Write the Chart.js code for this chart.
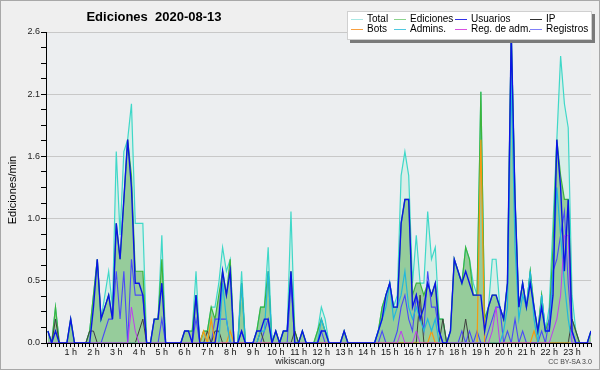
<!DOCTYPE html>
<html>
<head>
<meta charset="utf-8">
<script src="https://cdn.jsdelivr.net/npm/chart.js@4/dist/chart.umd.min.js"></script>
<style>
  html, body { margin: 0; padding: 0; background: #efefef; }
  #wrap { position: relative; width: 600px; height: 370px; background: #efefef; overflow: hidden; }
  #frame { position: absolute; left: 0; top: 0; width: 600px; height: 370px; box-sizing: border-box; border: 1px solid #a8a8a8; pointer-events: none; }
  canvas { position: absolute; left: 0; top: 0; }
  .txt { position: absolute; font-family: "Liberation Sans", Arial, sans-serif; color: #000; white-space: nowrap; }
  #title { left: 0; width: 308px; top: 9px; text-align: center; font-size: 13px; font-weight: bold; }
  #ytitle { left: -38px; top: 184px; width: 100px; text-align: center; font-size: 11px; transform: rotate(-90deg); }
  #site { left: 250px; width: 100px; top: 356px; text-align: center; font-size: 9px; color: #222; }
  #lic { left: 530px; width: 80px; top: 358px; text-align: center; font-size: 7px; color: #444; }
  #legend { position: absolute; left: 347px; top: 11px; width: 243px; height: 27px; background: #fff; border: 1px solid #d0d0d0; box-shadow: 3px 3px 0 #7a7a7a; }
  .item { position: absolute; font-family: "Liberation Sans", Arial, sans-serif; font-size: 10px; line-height: 10px; white-space: nowrap; }
  .item i { position: absolute; left: 0; top: 5px; width: 12px; height: 1px; }
  .item span { position: absolute; left: 16px; top: 0; }
</style>
</head>
<body>
<div id="wrap">
  <canvas id="chart" width="600" height="370"></canvas>
  <div id="title" class="txt">Ediciones&nbsp;&nbsp;2020-08-13</div>
  <div id="ytitle" class="txt">Ediciones/min</div>
  <div id="site" class="txt">wikiscan.org</div>
  <div id="lic" class="txt">CC BY-SA 3.0</div>
  <div id="legend"></div>
  <div id="frame"></div>
</div>
<script>
// Valores: ediciones por minuto, un punto cada 10 minutos (144 por día)
const hourLabels = ["1 h", "2 h", "3 h", "4 h", "5 h", "6 h", "7 h", "8 h", "9 h", "10 h", "11 h", "12 h",
  "13 h", "14 h", "15 h", "16 h", "17 h", "18 h", "19 h", "20 h", "21 h", "22 h", "23 h"];
const yTickLabels = ["0.0", "0.5", "1.0", "1.6", "2.1", "2.6"];

const total = [
  0.1, 0, 0.3, 0, 0, 0,
  0.2, 0, 0, 0, 0, 0.1,
  0.4, 0.7, 0.2, 0.4, 0.6, 0.3,
  1.6, 0.9, 1.6, 1.7, 2.0, 1.0,
  1.0, 1.0, 0, 0, 0.2, 0.2,
  0.9, 0, 0, 0, 0, 0,
  0.1, 0.1, 0.1, 0.6, 0, 0.1,
  0.1, 0.3, 0.3, 0.5, 0.8, 0.6,
  0.7, 0, 0, 0.6, 0, 0,
  0, 0.1, 0.3, 0.3, 0.8, 0,
  0.1, 0, 0.1, 0.1, 1.1, 0.1,
  0, 0.1, 0, 0, 0, 0.1,
  0.3, 0.2, 0, 0, 0, 0,
  0.1, 0, 0, 0, 0, 0,
  0, 0, 0, 0.1, 0.3, 0.4,
  0.5, 0.3, 0.4, 1.4, 1.6, 1.4,
  0.5, 0.9, 0.5, 0.5, 1.1, 0.7,
  0.8, 0.2, 0.2, 0, 0.1, 0.7,
  0.6, 0.5, 0.8, 0.7, 0.5, 0.4,
  2.1, 0.2, 0.3, 0.7, 0.7, 0.3,
  0.2, 0.5, 2.6, 1.2, 0.3, 0.5,
  0.3, 0.6, 0.3, 0.1, 0.4, 0.1,
  0.3, 1.0, 1.7, 2.4, 2.0, 1.8,
  0.4, 0.1, 0, 0, 0, 0.1
];
const ediciones = [
  0.1, 0, 0.3, 0, 0, 0,
  0.2, 0, 0, 0, 0, 0.1,
  0.4, 0.7, 0.2, 0.3, 0.4, 0.2,
  1.0, 0.7, 1.2, 1.7, 1.4, 0.6,
  0.6, 0.6, 0, 0, 0.2, 0.2,
  0.7, 0, 0, 0, 0, 0,
  0.1, 0.1, 0.1, 0.4, 0, 0.1,
  0.1, 0.3, 0.2, 0.4, 0.6, 0.4,
  0.7, 0, 0, 0.5, 0, 0,
  0, 0.1, 0.3, 0.3, 0.6, 0,
  0.1, 0, 0.1, 0.1, 0.6, 0.1,
  0, 0.1, 0, 0, 0, 0.1,
  0.2, 0.1, 0, 0, 0, 0,
  0.1, 0, 0, 0, 0, 0,
  0, 0, 0, 0.1, 0.3, 0.4,
  0.5, 0.3, 0.3, 1.0, 1.2, 1.2,
  0.4, 0.5, 0.5, 0.4, 0.5, 0.4,
  0.5, 0.2, 0.2, 0, 0.1, 0.7,
  0.6, 0.5, 0.8, 0.7, 0.4, 0.4,
  2.1, 0.2, 0.3, 0.4, 0.4, 0.3,
  0.2, 0.5, 2.6, 1.2, 0.3, 0.5,
  0.3, 0.6, 0.3, 0.1, 0.4, 0.1,
  0.2, 0.8, 1.7, 1.4, 1.2, 1.2,
  0.2, 0.1, 0, 0, 0, 0.1
];
const usuarios = [
  0.1, 0, 0.1, 0, 0, 0,
  0.2, 0, 0, 0, 0, 0,
  0.3, 0.7, 0.2, 0.3, 0.4, 0.2,
  1.0, 0.7, 1.2, 1.7, 1.3, 0.5,
  0.5, 0.4, 0, 0, 0.2, 0.2,
  0.5, 0, 0, 0, 0, 0,
  0.1, 0.1, 0, 0.4, 0, 0,
  0, 0, 0, 0.2, 0.6, 0.4,
  0.6, 0, 0, 0.1, 0, 0,
  0, 0.1, 0.1, 0.2, 0.2, 0,
  0.1, 0, 0.1, 0.1, 0.6, 0,
  0, 0.1, 0, 0, 0, 0,
  0.1, 0.1, 0, 0, 0, 0,
  0.1, 0, 0, 0, 0, 0,
  0, 0, 0, 0.1, 0.2, 0.4,
  0.5, 0.3, 0.3, 1.0, 1.2, 1.2,
  0.3, 0.4, 0.2, 0.3, 0.5, 0.4,
  0.5, 0.1, 0, 0, 0.1, 0.7,
  0.6, 0.5, 0.6, 0.5, 0.4, 0.4,
  0.4, 0.1, 0.3, 0.4, 0.4, 0.3,
  0.2, 0.5, 2.6, 1.2, 0.3, 0.5,
  0.3, 0.5, 0.3, 0.1, 0.3, 0.1,
  0.1, 0.4, 1.7, 1.3, 0.6, 1.2,
  0.1, 0, 0, 0, 0, 0.1
];
const ip = [
  0, 0, 0.2, 0, 0, 0,
  0, 0, 0, 0, 0, 0.1,
  0.1, 0, 0, 0, 0, 0,
  0, 0, 0, 0, 0, 0,
  0.1, 0.2, 0, 0, 0, 0,
  0, 0, 0, 0, 0, 0,
  0, 0, 0, 0, 0, 0,
  0.1, 0, 0.1, 0.1, 0, 0,
  0, 0, 0, 0, 0, 0,
  0, 0, 0.1, 0, 0, 0,
  0, 0, 0, 0, 0, 0.1,
  0, 0, 0, 0, 0, 0,
  0, 0, 0, 0, 0, 0,
  0, 0, 0, 0, 0, 0,
  0, 0, 0, 0, 0, 0,
  0, 0, 0, 0, 0, 0,
  0, 0, 0.4, 0, 0, 0,
  0, 0, 0.2, 0, 0, 0,
  0, 0, 0.2, 0, 0, 0,
  0, 0, 0, 0, 0, 0,
  0, 0, 0, 0, 0, 0,
  0, 0, 0, 0, 0, 0,
  0, 0, 0, 0, 0, 0,
  0.2, 0.1, 0, 0, 0, 0
];
const bots = [
  0, 0, 0, 0, 0, 0,
  0, 0, 0, 0, 0, 0,
  0, 0, 0, 0, 0, 0,
  0, 0, 0, 0, 0, 0,
  0, 0, 0, 0, 0, 0,
  0, 0, 0, 0, 0, 0,
  0, 0, 0, 0, 0, 0.1,
  0, 0.2, 0, 0, 0, 0,
  0.1, 0, 0, 0, 0, 0,
  0, 0, 0, 0, 0, 0,
  0, 0, 0, 0, 0, 0,
  0, 0, 0, 0, 0, 0,
  0, 0, 0, 0, 0, 0,
  0, 0, 0, 0, 0, 0,
  0, 0, 0, 0, 0, 0,
  0, 0, 0, 0, 0, 0,
  0, 0, 0, 0, 0, 0.1,
  0, 0, 0, 0, 0, 0,
  0, 0, 0, 0, 0, 0,
  1.7, 0, 0, 0, 0, 0,
  0, 0, 0, 0, 0, 0,
  0, 0, 0.1, 0, 0, 0,
  0, 0, 0, 0, 0, 0,
  0, 0, 0, 0, 0, 0
];
const admins = [
  0, 0, 0, 0, 0, 0,
  0, 0, 0, 0, 0, 0,
  0, 0, 0, 0, 0, 0,
  0, 0, 0, 0, 0, 0,
  0, 0, 0, 0, 0, 0,
  0, 0, 0, 0, 0, 0,
  0, 0, 0, 0, 0, 0,
  0, 0, 0, 0, 0.5, 0.2,
  0, 0, 0, 0.5, 0, 0,
  0, 0, 0.1, 0.1, 0.6, 0,
  0, 0, 0, 0, 0, 0,
  0, 0, 0, 0, 0, 0,
  0.2, 0.1, 0, 0, 0, 0,
  0, 0, 0, 0, 0, 0,
  0, 0, 0, 0.1, 0.2, 0.3,
  0.5, 0.2, 0.3, 0.4, 0.6, 0.3,
  0.2, 0.3, 0.2, 0.1, 0.2, 0.1,
  0.2, 0, 0, 0, 0, 0,
  0, 0, 0, 0, 0, 0,
  0, 0, 0, 0, 0, 0,
  0.1, 0.3, 2.2, 0.8, 0.2, 0.4,
  0.3, 0.6, 0.2, 0, 0.4, 0.1,
  0.1, 0.6, 1.3, 0.9, 0.5, 0.2,
  0, 0, 0, 0, 0, 0
];
const regAdm = [
  0, 0, 0, 0, 0, 0,
  0, 0, 0, 0, 0, 0,
  0, 0, 0, 0, 0, 0,
  0, 0, 0, 0, 0.3, 0.1,
  0, 0, 0, 0, 0, 0,
  0, 0, 0, 0, 0, 0,
  0, 0, 0, 0, 0, 0,
  0, 0, 0, 0, 0, 0,
  0, 0, 0, 0, 0, 0,
  0, 0, 0, 0, 0, 0,
  0, 0, 0, 0, 0, 0,
  0, 0, 0, 0, 0, 0,
  0, 0, 0, 0, 0, 0,
  0, 0, 0, 0, 0, 0,
  0, 0, 0, 0, 0, 0,
  0, 0, 0, 0.1, 0, 0,
  0, 0.1, 0, 0, 0, 0,
  0, 0, 0, 0, 0, 0,
  0, 0, 0, 0, 0, 0,
  0, 0, 0, 0.1, 0.3, 0,
  0, 0, 0, 0, 0, 0,
  0, 0, 0, 0, 0, 0,
  0, 0.1, 0.2, 0.4, 0.9, 0.9,
  0, 0, 0, 0, 0, 0
];
const registros = [
  0, 0, 0, 0, 0, 0,
  0, 0, 0, 0, 0, 0,
  0, 0, 0, 0.1, 0.2, 0.2,
  0.6, 0.2, 0.6, 0, 0.7, 0.4,
  0.4, 0.4, 0, 0, 0, 0,
  0.2, 0, 0, 0, 0, 0,
  0, 0, 0, 0.2, 0, 0,
  0, 0, 0.2, 0.2, 0.2, 0.2,
  0, 0, 0, 0.1, 0, 0,
  0, 0, 0, 0.1, 0.2, 0,
  0, 0, 0, 0, 0.5, 0,
  0, 0, 0, 0, 0, 0,
  0.1, 0, 0, 0, 0, 0,
  0, 0, 0, 0, 0, 0,
  0, 0, 0, 0, 0.1, 0,
  0, 0, 0.1, 0.3, 0.4, 0.2,
  0.1, 0.4, 0.3, 0.1, 0.6, 0.3,
  0.3, 0.1, 0, 0, 0, 0,
  0, 0.1, 0, 0.1, 0, 0.1,
  0, 0, 0.1, 0.2, 0.3, 0.3,
  0, 0.1, 0, 0.2, 0, 0.1,
  0, 0, 0, 0, 0.1, 0,
  0.2, 0.6, 0.7, 0.9, 1.1, 0.5,
  0.1, 0, 0, 0, 0, 0
];

const series = [
  { label: "Total", data: total, color: "#3fd8c8", legend: "#a8e8e4", width: 1.2, fill: "rgba(200,238,226,0.55)", order: 10 },
  { label: "Ediciones", data: ediciones, color: "#3cb43c", legend: "#8cd48c", width: 1.2, fill: "rgba(122,190,122,0.7)", order: 9 },
  { label: "Usuarios", data: usuarios, color: "#0a14e6", legend: "#3030e8", width: 1.4, order: 1 },
  { label: "IP", data: ip, color: "#404040", legend: "#303030", width: 1, order: 5 },
  { label: "Bots", data: bots, color: "#f59a10", legend: "#f8a040", width: 1.2, order: 4 },
  { label: "Admins.", data: admins, color: "#22b8dc", legend: "#50c8e0", width: 1.2, order: 3 },
  { label: "Reg. de adm.", data: regAdm, color: "#c03cf0", legend: "#d850e0", width: 1, order: 2 },
  { label: "Registros", data: registros, color: "#4a4af8", legend: "#8080f8", width: 1.1, order: 6 }
];

// Leyenda (4 columnas x 2 filas)
const legendEl = document.getElementById("legend");
const legendOrder = ["Total", "Ediciones", "Usuarios", "IP", "Bots", "Admins.", "Reg. de adm.", "Registros"];
const colX = [3, 46, 107, 182];
legendOrder.forEach((name, k) => {
  const s = series.find((d) => d.label === name);
  const div = document.createElement("div");
  div.className = "item";
  div.style.left = colX[k % 4] + "px";
  div.style.top = (k < 4 ? 2 : 12) + "px";
  div.innerHTML = '<i style="background:' + s.legend + '"></i><span>' + name + "</span>";
  legendEl.appendChild(div);
});

const bgPlugin = {
  id: "plotBg",
  beforeDraw(chart) {
    const { ctx, chartArea: a } = chart;
    ctx.save();
    ctx.fillStyle = "#eceef0";
    ctx.fillRect(a.left, a.top, a.right - a.left, a.bottom - a.top);
    ctx.restore();
  }
};

const datasets = series.map((s) => ({
  label: s.label,
  data: s.data.map((v, i) => ({ x: i, y: v })),
  borderColor: s.color,
  borderWidth: s.width,
  backgroundColor: s.fill || "transparent",
  fill: s.fill ? "origin" : false,
  pointRadius: 0,
  tension: 0,
  order: s.order
}));

new Chart(document.getElementById("chart"), {
  type: "line",
  data: { datasets },
  plugins: [bgPlugin],
  options: {
    responsive: false,
    animation: false,
    devicePixelRatio: 1,
    layout: { padding: { top: 32, right: 9, left: 0, bottom: 0 } },
    plugins: {
      legend: { display: false },
      tooltip: { enabled: false },
      filler: { drawTime: "beforeDatasetsDraw" }
    },
    scales: {
      x: {
        type: "linear",
        min: -0.5,
        max: 143,
        afterFit: (s) => { s.height = 27; },
        afterBuildTicks: (s) => {
          s.ticks = total.map((_, i) => ({ value: i }));
        },
        border: { display: true, color: "#000", width: 1 },
        grid: { drawOnChartArea: false, color: "#000", tickLength: 4 },
        ticks: {
          autoSkip: false,
          maxRotation: 0,
          padding: 0,
          color: "#111",
          font: { family: "Liberation Sans", size: 9 },
          callback: (v) => (v % 6 === 0 && v > 0 ? hourLabels[v / 6 - 1] : "")
        }
      },
      y: {
        min: 0,
        max: 2.6,
        afterFit: (s) => { s.width = 46; },
        afterBuildTicks: (s) => {
          const t = [];
          for (let k = 0; k <= 20; k++) t.push({ value: (2.6 * k) / 20 });
          s.ticks = t;
        },
        border: { display: true, color: "#000", width: 1 },
        grid: {
          color: (c) => (c.index % 4 === 0 && c.index > 0 ? "#c8c8c8" : "rgba(0,0,0,0)"),
          tickColor: "#000",
          tickLength: 5
        },
        ticks: {
          autoSkip: false,
          padding: 1,
          color: "#222",
          font: { family: "Liberation Sans", size: 9 },
          callback: (v, idx) => (idx % 4 === 0 ? yTickLabels[idx / 4] : "")
        }
      }
    }
  }
});
</script>
</body>
</html>
